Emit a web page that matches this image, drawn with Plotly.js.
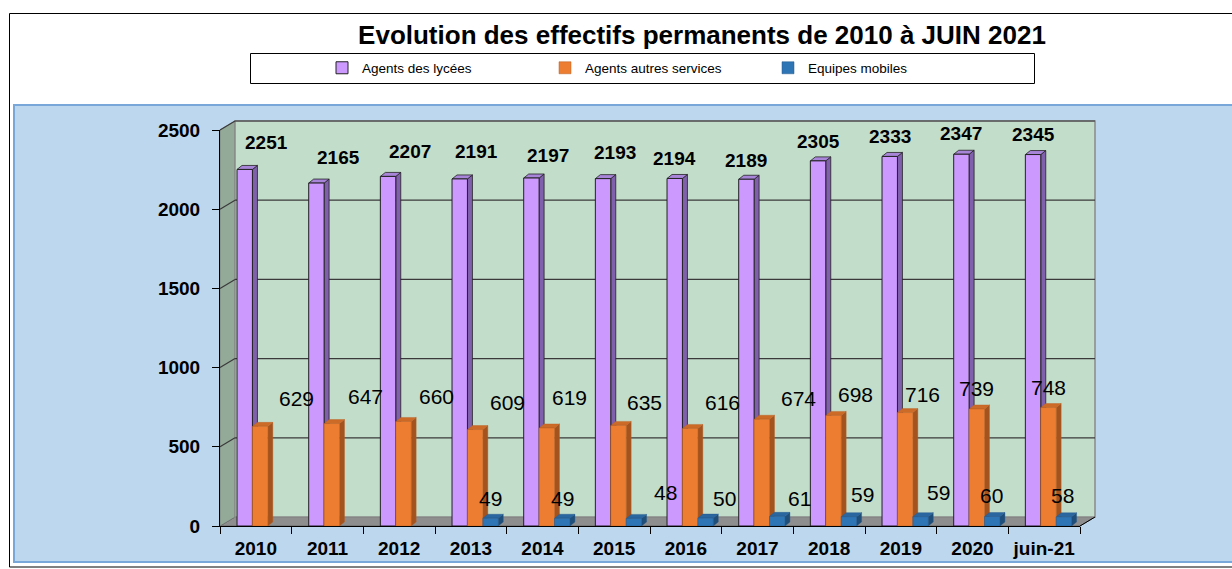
<!DOCTYPE html>
<html>
<head>
<meta charset="utf-8">
<script src="https://cdn.plot.ly/plotly-3.0.1.min.js"></script>
<style>html,body{margin:0;padding:0;background:#fff;}#chart{width:1232px;height:569px;}</style>
</head>
<body>
<div id="chart"></div>
<script>
// ---- data ----
const categories = ['2010','2011','2012','2013','2014','2015','2016','2017','2018','2019','2020','juin-21'];
const agentsLycees = [2251,2165,2207,2191,2197,2193,2194,2189,2305,2333,2347,2345];
const agentsAutres = [629,647,660,609,619,635,616,674,698,716,739,748];
const equipesMobiles = [null,null,null,49,49,48,50,61,59,59,60,58];
const yTickValues = [0,500,1000,1500,2000,2500];
const seriesNames = ['Agents des lycées','Agents autres services','Equipes mobiles'];
const chartTitle = 'Evolution des effectifs permanents de 2010 à JUIN 2021';

// ---- label placement tweaks (pixels, layout only) ----
const labelDxLycees = [22,22,22,17,17,12,0,0,0,0,0,0];
const labelDyLycees = [27,26,25,27,23,26,20,19,19,20,21,20];
const labelDxAutres = [36,34,33,32,23,26,32,37,22,17,0,0];
const labelDyAutres = [28,27,25,27,30,23,26,21,21,18,20,20];
const labelDxMobiles = [0,0,0,0,0,32,19,22,14,18,-1,-1];
const labelDyMobiles = [0,0,0,20,20,26,20,18,22,24,21,21];

// ---- geometry ----
const W = 1232, H = 569;
const PL = 220, PR = 1080, PT = 130, PB = 526;
const pxPerCat = (PR - PL) / categories.length;
const pxPerUnit = (PB - PT) / 2500;
const BW = 0.215, SHIFT = 0.06;
const DX = 5 / pxPerCat, DY = 4 / pxPerUnit;
const WX = 15 / (PR - PL), WY = 9 / (PB - PT);
const px2x = p => (p - PL) / (PR - PL);
const px2y = p => (PB - p) / (PB - PT);

const FONT = 'Arial, "Liberation Sans", sans-serif';

const series = [
  {name: seriesNames[0], y: agentsLycees, color: '#CC99FF', side: '#8060AC', top: '#A985DA', edge: '#222222', ew: 1,
   dx: labelDxLycees, dy: labelDyLycees, font: {family: FONT, size: 19, weight: 'bold', color: '#000'}},
  {name: seriesNames[1], y: agentsAutres, color: '#ED7D31', side: '#A4531E', top: '#CC6A28', edge: '#B85F22', ew: 0.5,
   dx: labelDxAutres, dy: labelDyAutres, font: {family: FONT, size: 21, color: '#000'}},
  {name: seriesNames[2], y: equipesMobiles, color: '#2E75B6', side: '#1F4E79', top: '#2A66A0', edge: '#24598B', ew: 0.5,
   dx: labelDxMobiles, dy: labelDyMobiles, font: {family: FONT, size: 21, color: '#000'}}
];
series.forEach((s, k) => { s.offset = (k - 1.5) * BW + SHIFT; });

const traces = series.map(s => ({
  type: 'bar', name: s.name, x: categories, y: s.y,
  offset: s.offset, width: BW,
  marker: {color: s.color, line: {color: s.edge, width: s.ew}},
  hoverinfo: 'x+y+name'
}));

const shapes = [];
// outer frame, blue area, legend box
shapes.push({type: 'rect', xref: 'paper', yref: 'paper', layer: 'below',
  x0: px2x(9.5), x1: px2x(1300), y0: px2y(567), y1: px2y(13.5),
  line: {color: '#000', width: 1}, fillcolor: '#FFFFFF'});
shapes.push({type: 'rect', xref: 'paper', yref: 'paper', layer: 'below',
  x0: px2x(14), x1: px2x(1300), y0: px2y(562), y1: px2y(105),
  line: {color: '#7AA7DA', width: 2}, fillcolor: '#BDD7EE'});
shapes.push({type: 'rect', xref: 'paper', yref: 'paper', layer: 'below',
  x0: px2x(250.5), x1: px2x(1034.5), y0: px2y(83.5), y1: px2y(53.5),
  line: {color: '#000', width: 1}, fillcolor: '#FFFFFF'});
// floor
shapes.push({type: 'path', xref: 'paper', yref: 'paper', layer: 'below',
  path: `M0,0 L${WX},${WY} L${1 + WX},${WY} L1,0 Z`, fillcolor: '#8E8E8E', line: {color: '#666', width: 1}});
// left wall
shapes.push({type: 'path', xref: 'paper', yref: 'paper', layer: 'below',
  path: `M0,0 L0,1 L${WX},${1 + WY} L${WX},${WY} Z`, fillcolor: '#94AA99', line: {color: '#666', width: 0.5}});
// back wall
shapes.push({type: 'rect', xref: 'paper', yref: 'paper', layer: 'below',
  x0: WX, x1: 1 + WX, y0: WY, y1: 1 + WY, fillcolor: '#C3DDCB', line: {color: '#8A8A8A', width: 1.5}});
// grid lines on the walls
yTickValues.slice(1).forEach(v => {
  const f = v / 2500;
  shapes.push({type: 'line', xref: 'paper', yref: 'paper', layer: 'below',
    x0: WX, x1: 1 + WX, y0: f + WY, y1: f + WY, line: {color: '#3A3A3A', width: 1.2}});
  shapes.push({type: 'line', xref: 'paper', yref: 'paper', layer: 'below',
    x0: 0, x1: WX, y0: f, y1: f + WY, line: {color: '#3A3A3A', width: 1.2}});
});
// floor right edge
shapes.push({type: 'line', xref: 'paper', yref: 'paper', layer: 'below',
  x0: 1, x1: 1 + WX, y0: 0, y1: WY, line: {color: '#000', width: 1}});

// 3D faces of bars (from the data, in axis units)
series.forEach(s => {
  s.y.forEach((v, i) => {
    if (v === null || v === undefined) return;
    const x0 = i + s.offset, x1 = x0 + BW;
    shapes.push({type: 'path', xref: 'x', yref: 'y', layer: 'below',
      path: `M${x1},0 L${x1 + DX},${DY} L${x1 + DX},${v + DY} L${x1},${v} Z`,
      fillcolor: s.side, line: {color: s.edge, width: s.ew * 0.8}});
    shapes.push({type: 'path', xref: 'x', yref: 'y', layer: 'below',
      path: `M${x0},${v} L${x0 + DX},${v + DY} L${x1 + DX},${v + DY} L${x1},${v} Z`,
      fillcolor: s.top, line: {color: s.edge, width: s.ew * 0.8}});
  });
});

// data labels (x given as category index)
const annotations = [];
series.forEach(s => {
  s.y.forEach((v, i) => {
    if (v === null || v === undefined) return;
    annotations.push({x: i, y: v, xref: 'x', yref: 'y', text: String(v), showarrow: false,
      xanchor: 'center', yanchor: 'middle',
      xshift: (s.offset + BW / 2) * pxPerCat + s.dx[i], yshift: s.dy[i],
      font: s.font});
  });
});

const layout = {
  width: W, height: H,
  margin: {l: PL, r: W - PR, t: PT, b: H - PB, pad: 0},
  paper_bgcolor: '#FFFFFF', plot_bgcolor: 'rgba(0,0,0,0)',
  barmode: 'overlay',
  title: {text: chartTitle, x: 702 / W, xref: 'container', xanchor: 'center',
    y: 1 - 35 / H, yref: 'container', yanchor: 'middle',
    font: {family: FONT, size: 26, weight: 'bold', color: '#000'}},
  showlegend: true,
  legend: {orientation: 'h', x: px2x(322), xanchor: 'left', y: px2y(68), yanchor: 'middle',
    bgcolor: 'rgba(0,0,0,0)', borderwidth: 0, entrywidth: 178, entrywidthmode: 'pixels',
    font: {family: FONT, size: 13.5, color: '#000'}, traceorder: 'normal'},
  xaxis: {type: 'category', range: [-0.5, categories.length - 0.5], tickson: 'boundaries',
    ticks: 'outside', ticklen: 7, tickcolor: '#000', showline: true, linecolor: '#000', linewidth: 1,
    showgrid: false, zeroline: false, fixedrange: true, tickangle: 0, automargin: false,
    ticklabelstandoff: 5,
    tickfont: {family: FONT, size: 19, weight: 'bold', color: '#000'}},
  yaxis: {range: [0, 2500], tickvals: yTickValues, ticks: 'outside', ticklen: 7, tickcolor: '#000',
    showline: true, linecolor: '#000', linewidth: 1, showgrid: false, zeroline: false, fixedrange: true,
    ticklabelstandoff: 8, automargin: false,
    tickfont: {family: FONT, size: 19, weight: 'bold', color: '#000'}},
  shapes: shapes,
  annotations: annotations
};

Plotly.newPlot('chart', traces, layout, {displayModeBar: false, staticPlot: true});
</script>
</body>
</html>
